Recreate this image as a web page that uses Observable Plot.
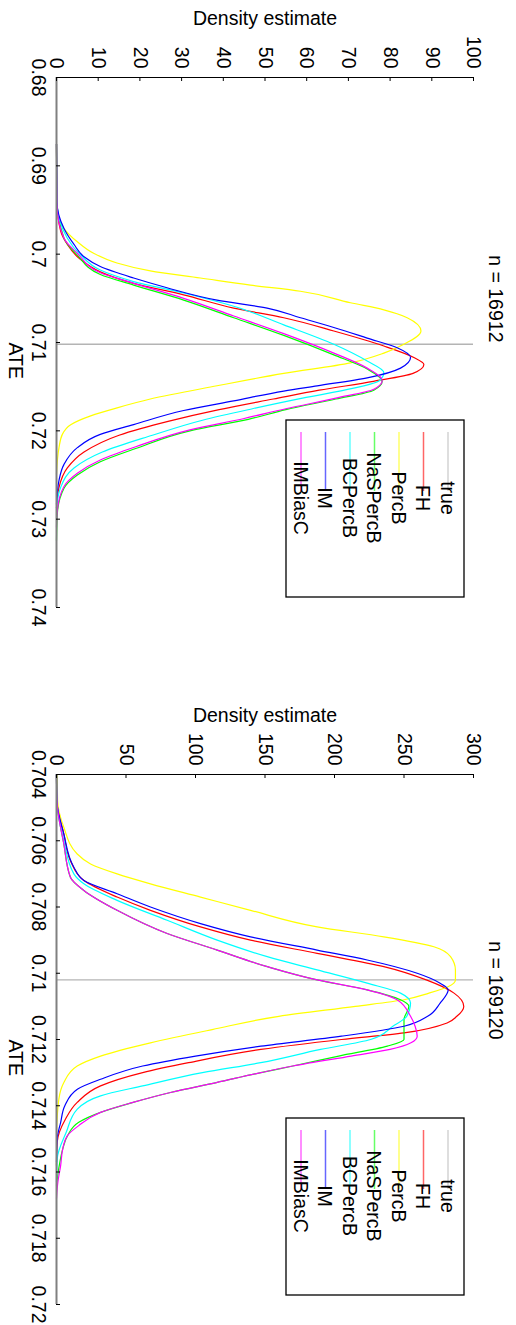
<!DOCTYPE html>
<html><head><meta charset="utf-8">
<script src="https://cdn.jsdelivr.net/npm/d3@7"></script>
<script src="https://cdn.jsdelivr.net/npm/@observablehq/plot@0.6"></script>
<style>
body{margin:0;background:#fff;}
#wrap{position:relative;width:516px;height:1325px;background:#fff;}
.panel{position:absolute;left:0;}
</style></head><body><div id="wrap"></div>
<script>
// ---- shared ----
const series = ["true","FH","PercB","NaSPercB","BCPercB","IM","IMBiasC"];
const colors = ["#b4b4b4","#ff0000","#ffff00","#00ff00","#00ffff","#0000ff","#ff00ff"];
const trueATE = 0.7102;

// ---- panel 1 : n = 16912 ----
const p1Title = "n = 16912";
const p1AteDomain = [0.68, 0.74];
const p1AteTicks = [0.68,0.69,0.70,0.71,0.72,0.73,0.74];
const p1DenDomain = [0, 100];
const p1DenTicks = [0,10,20,30,40,50,60,70,80,90,100];
// [ATE, density]
const p1_FH = [[0.6875,0],[0.6941,0.1],[0.6974,1.0],[0.6989,2.6],[0.7005,5.5],[0.7020,10.5],[0.7033,18.5],[0.7046,30.5],[0.7061,42.5],[0.7072,54.5],[0.7087,66.5],[0.7104,78.5],[0.7117,85.7],[0.7125,88.1],[0.7135,85.5],[0.7144,76],[0.7154,63],[0.7164,52],[0.7176,39],[0.7189,27],[0.7205,15],[0.7224,6.6],[0.7242,2.6],[0.7264,0.6],[0.7287,0]];
const p1_PercB = [[0.6875,0],[0.6952,0.2],[0.6971,1.8],[0.6986,5.0],[0.6999,8.9],[0.7010,14.5],[0.7019,22.5],[0.7027,34.5],[0.7035,46.5],[0.7042,58.5],[0.7055,70.5],[0.7063,78.5],[0.7072,84.1],[0.7087,87.4],[0.7102,83.3],[0.7112,78.5],[0.7123,70.5],[0.7135,54.5],[0.7149,38.5],[0.7164,22.5],[0.7174,14.5],[0.7183,8.2],[0.7193,3.4],[0.7204,1.4],[0.7219,0.6],[0.7249,0]];
const p1_NaSPercB = [[0.6875,0],[0.6937,0.1],[0.6982,1.8],[0.7001,5.0],[0.7023,10.5],[0.7035,18.5],[0.7052,30.5],[0.7072,42.5],[0.7092,54.5],[0.7114,66.5],[0.7130,74.5],[0.7144,78.1],[0.7154,76.1],[0.7164,67],[0.7176,55],[0.7187,46],[0.7200,32],[0.7220,19],[0.7235,10.5],[0.7250,5.0],[0.7265,1.8],[0.7294,0.2],[0.7324,0]];
const p1_BCPercB = [[0.6875,0],[0.6941,0.1],[0.6982,2.6],[0.7001,5.8],[0.7018,10.5],[0.7031,18.5],[0.7044,30.5],[0.7059,42.5],[0.7080,54.5],[0.7102,66.5],[0.7121,74.5],[0.7134,78.5],[0.7143,77.5],[0.7152,71],[0.7163,59],[0.7175,47],[0.7188,35],[0.7205,23],[0.7224,11],[0.7242,4.2],[0.7264,1.0],[0.7287,0]];
const p1_IM = [[0.6875,0],[0.6941,0.1],[0.6971,1.8],[0.6989,4.2],[0.7003,6.6],[0.7014,10.5],[0.7027,18.5],[0.7038,26.5],[0.7052,38.5],[0.7061,50.5],[0.7072,58.5],[0.7083,66.5],[0.7095,74.5],[0.7106,81.7],[0.7117,84.9],[0.7129,82.5],[0.7140,74.5],[0.7149,62.5],[0.7155,54.5],[0.7166,42.5],[0.7177,30.5],[0.7193,18.5],[0.7204,10.5],[0.7219,5.0],[0.7238,1.8],[0.7256,0.6],[0.7283,0]];
const p1_IMBiasC = [[0.6875,0],[0.6944,0.1],[0.6982,1.8],[0.6999,5.0],[0.7021,10.5],[0.7033,18.5],[0.7050,30.5],[0.7070,42.5],[0.7090,54.5],[0.7112,66.5],[0.7129,74.5],[0.7143,78.1],[0.7153,76.1],[0.7163,67],[0.7175,55],[0.7186,45],[0.7199,32],[0.7218,19],[0.7233,10.5],[0.7248,5.0],[0.7263,1.8],[0.7290,0.2],[0.7309,0]];

// ---- panel 2 : n = 169120 ----
const p2Title = "n = 169120";
const p2AteDomain = [0.704, 0.72];
const p2AteTicks = [0.704,0.706,0.708,0.710,0.712,0.714,0.716,0.718,0.720];
const p2DenDomain = [0, 300];
const p2DenTicks = [0,50,100,150,200,250,300];
const p2_FH = [[0.7040,0],[0.7048,0.3],[0.7058,5.3],[0.7066,10],[0.7072,19.7],[0.7077,43.6],[0.7081,67.6],[0.7086,103.6],[0.7090,139.6],[0.7094,187.5],[0.7098,235.5],[0.7102,266],[0.7106,286],[0.7110,293],[0.7113,288],[0.7115,281],[0.7118,250],[0.7120,205],[0.7123,147],[0.7127,95],[0.7130,62],[0.7134,31.7],[0.7139,14.9],[0.7144,6.5],[0.7151,0.5],[0.7158,0]];
const p2_PercB = [[0.7040,0.5],[0.7048,0.8],[0.7056,5.3],[0.7064,14.9],[0.7067,24.5],[0.7070,43.6],[0.7073,67.6],[0.7077,103.6],[0.7081,139.6],[0.7086,187.5],[0.7089,235.5],[0.7092,271.5],[0.7095,283.5],[0.7099,287],[0.7102,287],[0.7104,282],[0.7106,268],[0.7108,250],[0.7110,215],[0.7113,160],[0.7117,112],[0.7121,67.6],[0.7125,31.7],[0.7128,14.9],[0.7133,5.3],[0.7138,1.7],[0.7148,0]];
const p2_NaSPercB = [[0.7040,0],[0.7048,0.3],[0.7061,5.3],[0.7071,10],[0.7075,19.7],[0.7081,43.6],[0.7088,79.6],[0.7093,115.6],[0.7098,151.6],[0.7102,187.5],[0.7105,223.5],[0.7108,247.5],[0.7110,253.5],[0.7114,250],[0.7117,250],[0.7120,250],[0.7122,238],[0.7125,203],[0.7128,170],[0.7130,147],[0.7133,115],[0.7136,82],[0.7139,55],[0.7142,31.7],[0.7145,16],[0.7149,8],[0.7153,4.5],[0.7158,2],[0.7164,0]];
const p2_BCPercB = [[0.7040,0],[0.7048,0.3],[0.7060,5.3],[0.7070,12.5],[0.7073,19.7],[0.7078,43.6],[0.7084,79.6],[0.7090,115.6],[0.7095,151.6],[0.7099,187.5],[0.7103,223.5],[0.7106,247.5],[0.7109,254.7],[0.7113,252],[0.7116,242],[0.7120,226],[0.7123,190],[0.7127,147],[0.7130,105],[0.7134,62],[0.7137,31.7],[0.7141,15],[0.7148,7],[0.7156,0.5],[0.7163,0]];
const p2_IM = [[0.7040,0],[0.7048,0.3],[0.7058,5.3],[0.7068,12.5],[0.7072,19.7],[0.7076,43.6],[0.7080,67.6],[0.7085,103.6],[0.7089,139.6],[0.7093,187.5],[0.7096,223.5],[0.7100,259.5],[0.7103,276],[0.7105,281.8],[0.7109,276],[0.7113,267],[0.7116,250],[0.7119,205],[0.7122,147],[0.7125,100],[0.7128,62],[0.7132,31.7],[0.7135,15],[0.7140,6],[0.7145,3],[0.7150,0.5],[0.7157,0]];
const p2_IMBiasC = [[0.7040,0],[0.7048,0.3],[0.7061,5.3],[0.7071,10],[0.7075,19.7],[0.7081,43.6],[0.7088,79.6],[0.7093,115.6],[0.7098,151.6],[0.7102,187.5],[0.7105,223.5],[0.7108,245],[0.7113,254.7],[0.7116,258],[0.7119,259.5],[0.7121,255],[0.7123,240],[0.7125,212],[0.7128,170],[0.7130,147],[0.7133,115],[0.7136,82],[0.7139,55],[0.7142,31.7],[0.7146,16],[0.7149,7.9],[0.7153,4.5],[0.7158,3],[0.7163,1],[0.7168,0]];

// ---- drawing ----
const FONT = '"Liberation Sans", Arial, Helvetica, sans-serif';
const W = 516, ML = 56, MR = 43;

function fmt(d){ return String(+d.toFixed(3)); }

function panel(cfg){
  const rows = [];
  cfg.lines.forEach((pts, i) => pts.forEach(([ate, den]) => rows.push({series: series[i+1], ate, den})));
  const frameH = cfg.height - cfg.mt - cfg.mb;
  const frameW = W - ML - MR;
  const svg = Plot.plot({
    width: W, height: cfg.height,
    marginTop: cfg.mt, marginBottom: cfg.mb, marginLeft: ML, marginRight: MR,
    style: {fontFamily: FONT, fontSize: "19.5px", background: "white", color: "black", overflow: "visible"},
    x: {domain: cfg.denDomain},
    y: {domain: cfg.ateDomain, reverse: true},
    color: {domain: series, range: colors},
    marks: [
      Plot.ruleY([trueATE], {stroke: colors[0], strokeWidth: 1.4}),
      Plot.line(rows, {x: "den", y: "ate", z: "series", stroke: "series", strokeWidth: 1.2, curve: "monotone-y"}),
      Plot.ruleX([cfg.denDomain[0]], {stroke: "#808080", strokeWidth: 2}),
      Plot.ruleY([cfg.ateDomain[0]], {stroke: "black", strokeWidth: 1}),
      Plot.tickX(cfg.denTicks, {x: d => d, insetBottom: frameH - 4, stroke: "black", strokeWidth: 1}),
      Plot.tickY(cfg.ateTicks, {y: d => d, insetRight: frameW - 4, stroke: "black", strokeWidth: 1}),
      Plot.axisX(cfg.denTicks, {anchor: "top", tickSize: 0, tickRotate: 90, tickPadding: 9, label: null}),
      Plot.axisY(cfg.ateTicks, {anchor: "left", tickSize: 0, tickRotate: 90, tickPadding: 11, label: null, tickFormat: fmt}),
      Plot.text(["Density estimate"], {text: d => d, frameAnchor: "top", dy: -52.5, lineAnchor: "bottom"}),
      Plot.text(["ATE"], {text: d => d, frameAnchor: "left", dx: -47.5, rotate: 90, lineAnchor: "bottom"}),
      Plot.text([cfg.title], {text: d => d, frameAnchor: "right", dx: 15, rotate: 90, lineAnchor: "bottom"})
    ]
  });
  // legend (rotated like the rest of the figure)
  const g = d3.select(svg).append("g")
    .attr("transform", `translate(${cfg.legend[0]},${cfg.legend[1]}) rotate(90)`)
    .attr("font-family", FONT).attr("font-size", "19.5px");
  g.append("rect").attr("width", 177).attr("height", 178)
    .attr("fill", "white").attr("stroke", "black").attr("stroke-width", 1.3);
  series.forEach((s, i) => {
    const v = 16 + i * 24.5;
    g.append("line").attr("x1", 12).attr("x2", 71).attr("y1", v).attr("y2", v)
      .attr("stroke", colors[i]).attr("stroke-opacity", 0.6).attr("stroke-width", 1.5);
    g.append("text").attr("x", 78).attr("y", v + 7.5).attr("fill", "black").text(s);
  });
  const div = document.createElement("div");
  div.className = "panel";
  div.style.top = cfg.top + "px";
  div.appendChild(svg);
  document.getElementById("wrap").appendChild(div);
}

panel({top: 0, height: 650, mt: 77, mb: 43, title: p1Title,
  ateDomain: p1AteDomain, ateTicks: p1AteTicks, denDomain: p1DenDomain, denTicks: p1DenTicks,
  lines: [p1_FH, p1_PercB, p1_NaSPercB, p1_BCPercB, p1_IM, p1_IMBiasC],
  legend: [464, 420]});
panel({top: 650, height: 675, mt: 124, mb: 21, title: p2Title,
  ateDomain: p2AteDomain, ateTicks: p2AteTicks, denDomain: p2DenDomain, denTicks: p2DenTicks,
  lines: [p2_FH, p2_PercB, p2_NaSPercB, p2_BCPercB, p2_IM, p2_IMBiasC],
  legend: [464, 468]});
</script></body></html>
